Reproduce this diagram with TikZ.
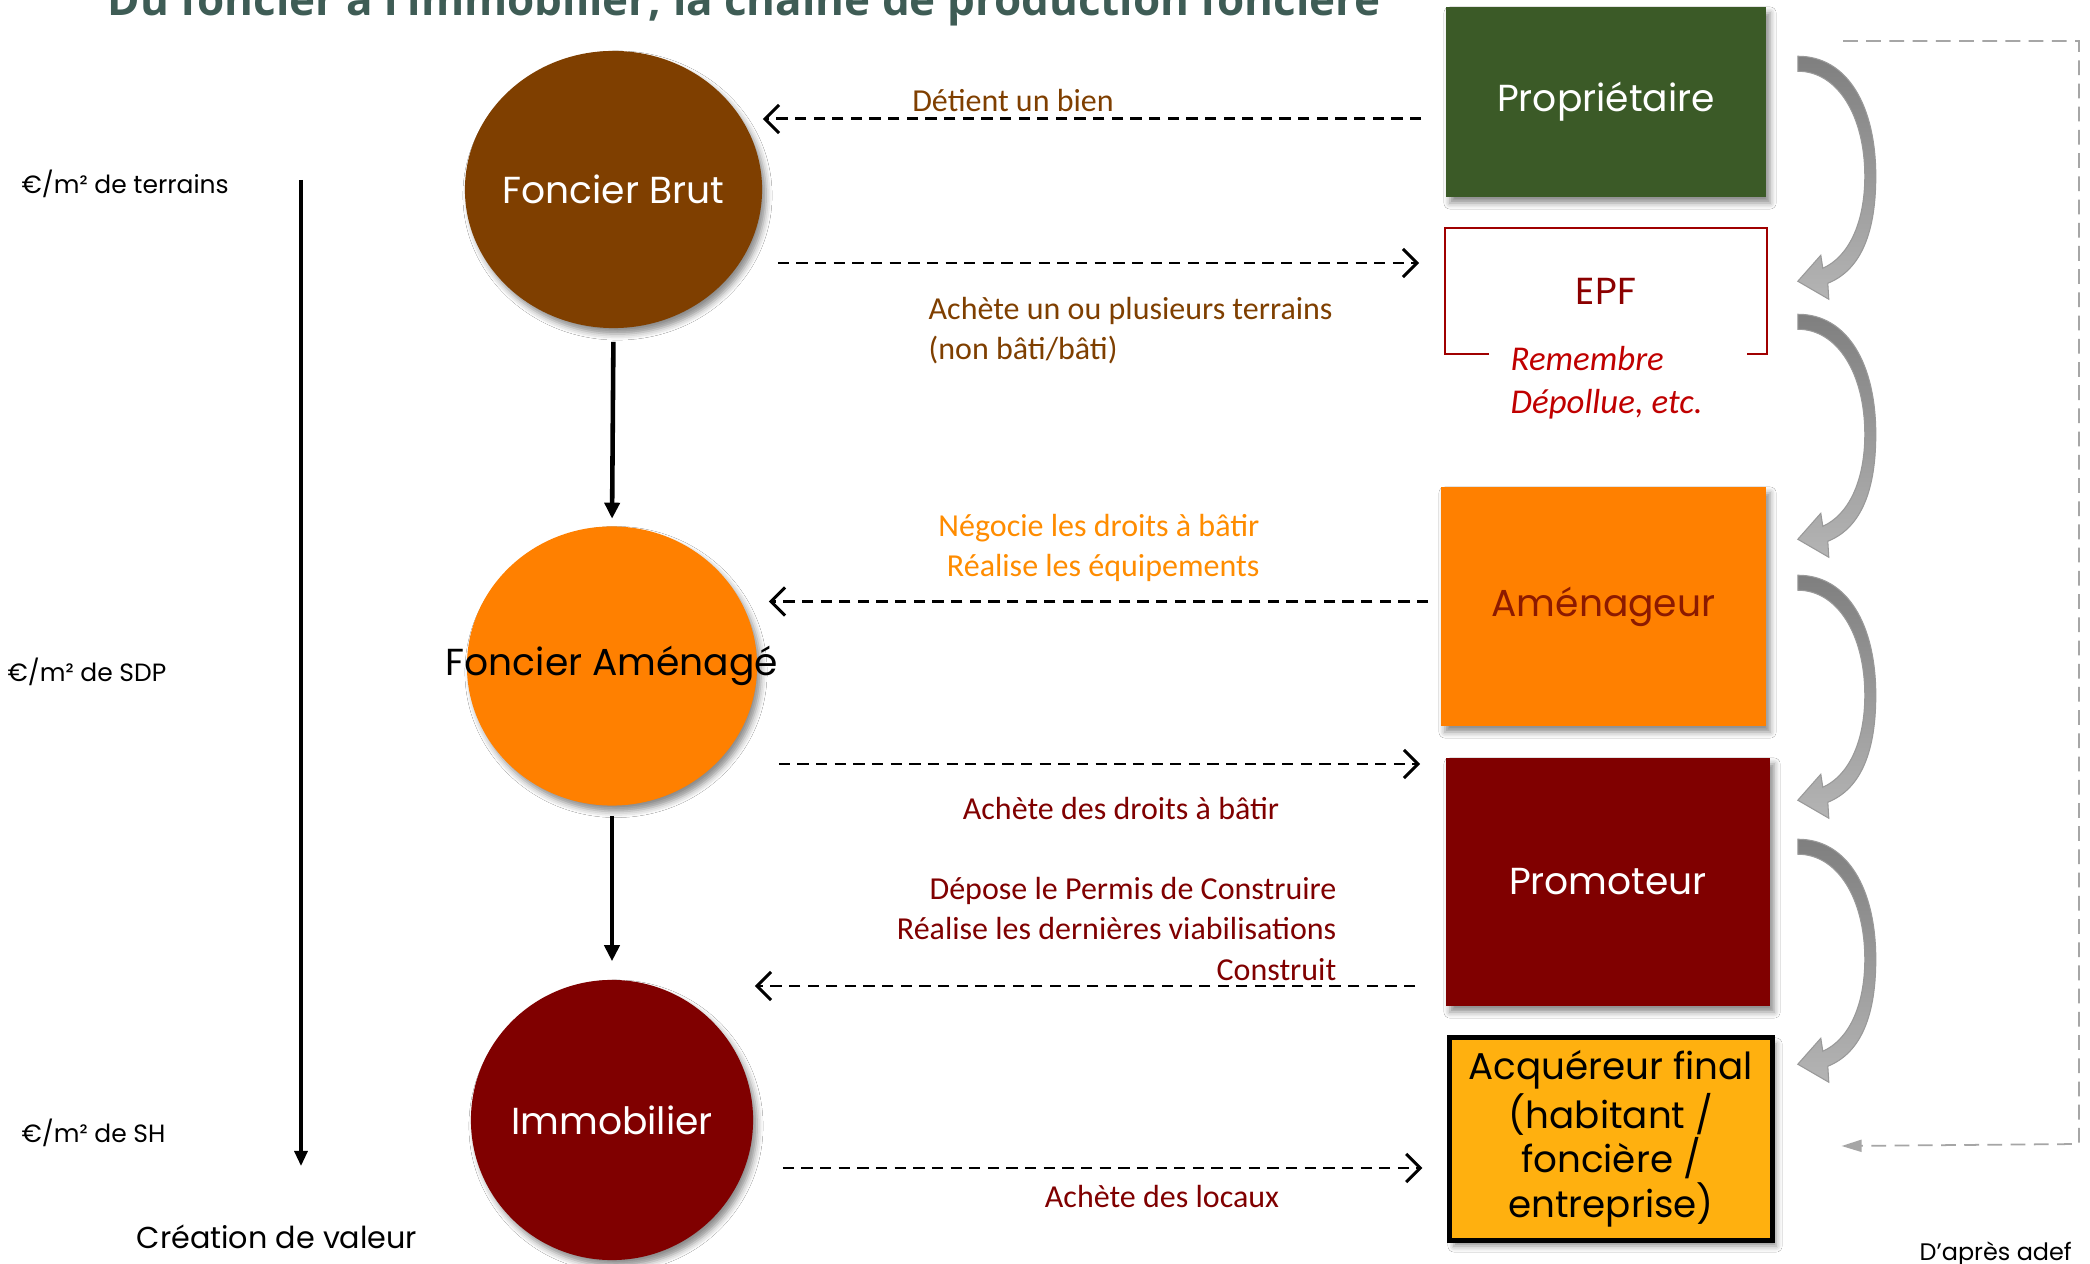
\documentclass[tikz,border=0pt]{standalone}
\usepackage{fontspec}
\setmainfont{Poppins}
\newfontfamily\calib{Carlito}
\newfontfamily\headfont{Open Sans}
\usetikzlibrary{shapes.geometric,arrows.meta,calc,shadows.blur}

\definecolor{brownfb}{HTML}{7F3F00}
\definecolor{orangefa}{HTML}{FF8000}
\definecolor{darkmaroon}{HTML}{800000}
\definecolor{propgreen}{HTML}{3B5A27}
\definecolor{acqamber}{HTML}{FFB00F}
\definecolor{epfred}{HTML}{A00000}
\definecolor{epftext}{HTML}{8B0000}
\definecolor{remred}{HTML}{C00000}
\definecolor{amentext}{HTML}{8C1A00}
\definecolor{negorange}{HTML}{FF8C00}
\definecolor{titlecol}{HTML}{3E5C55}
\definecolor{framegray}{HTML}{A6A6A6}
\definecolor{arrowdark}{HTML}{7F7F7F}
\definecolor{arrowlight}{HTML}{B4B4B4}

\tikzset{
  softshadow/.style={blur shadow={shadow xshift=0.04cm,shadow yshift=-0.06cm,
      shadow blur radius=0.06cm,shadow opacity=45}},
  stage/.style={ellipse, inner sep=0pt, softshadow, font=\fontsize{10.7}{13}\selectfont},
  actor/.style={rectangle, inner sep=0pt, minimum width=3.2cm, font=\fontsize{10.7}{13}\selectfont},
  flow/.style={draw=black, line width=0.85pt, dash pattern=on 3.2pt off 2.1pt,
      -{Straight Barb[length=4pt,width=8pt]}},
  act/.style={font=\calib\fontsize{9.1}{11.4}\selectfont, inner sep=0pt},
  down/.style={line width=1.3pt, -{Triangle[length=0.16cm,width=0.15cm]}},
  unitlbl/.style={anchor=west, inner sep=0pt, font=\fontsize{7.1}{9}\selectfont},
  pics/bendarrow/.style={code={
    \path[top color=arrowdark, bottom color=arrowlight, draw=gray!80, line width=0.3pt]
      (0,0) .. controls (50,0) and (78,-50) .. (78,-120)
      .. controls (78,-182) and (60,-215) .. (30,-227)
      -- (31,-243) -- (0,-225) -- (23,-199) -- (25,-212)
      .. controls (50,-201) and (67,-168) .. (67,-120)
      .. controls (67,-60) and (40,-15) .. (0,-15) -- cycle;
  }}
}

\begin{document}
\begin{tikzpicture}[x=0.01cm,y=0.01cm]
\useasboundingbox (0,0) rectangle (2090,-1264);
\clip (0,0) rectangle (2090,-1264);
\fill[white] (0,0) rectangle (2090,-1264);

% title
\node[anchor=base west, inner sep=0pt, text=titlecol,
      font=\headfont\bfseries\fontsize{12.5}{14}\selectfont] (title) at (107,-16)
  {Du foncier à l’immobilier, la chaîne de production foncière};

% the three stages of land
\node[stage, fill=brownfb, minimum width=2.97cm, minimum height=2.77cm, text=white]
  (fb) at (613.5,-189.5) {\makebox[0pt]{Foncier Brut}};
\node[stage, fill=orangefa, minimum width=2.9cm, minimum height=2.79cm]
  (fa) at (612,-666) {\makebox[0pt]{Foncier Aménagé}};
\node[stage, fill=darkmaroon, minimum width=2.82cm, minimum height=2.8cm, text=white]
  (im) at (612,-1120) {\makebox[0pt]{Immobilier}};

\draw[down, shorten <=0.13cm, shorten >=0.07cm] (fb.south) -- (fa.north);
\draw[down, shorten <=0.1cm, shorten >=0.18cm] (fa.south) -- (im.north);

% actors
\node[actor, softshadow, fill=propgreen, minimum height=1.9cm, text=white]
  (prop) at (1606,-102) {\raisebox{-0.12cm}{Propriétaire}};
\node[actor, minimum height=1.24cm, text=epftext] (epf) at (1606,-291) {EPF};
\draw[epfred, line width=0.65pt] ($(epf.south west)+(44,0)$) -- (epf.south west)
  -- (epf.north west) -- (epf.north east) -- (epf.south east) -- ++(-20,0);
\node[anchor=west, align=left, inner sep=0pt, text=remred,
      font=\calib\itshape\fontsize{9.9}{12.2}\selectfont] (epfnote) at (1510,-383)
  {Remembre\\Dépollue, etc.};
\node[actor, softshadow, fill=orangefa, minimum width=3.25cm, minimum height=2.39cm, text=amentext]
  (amen) at (1603.5,-606.5) {Aménageur};
\node[actor, softshadow, fill=darkmaroon, minimum width=3.24cm, minimum height=2.48cm, text=white]
  (prom) at (1608,-882) {Promoteur};
\node[actor, softshadow, fill=acqamber, draw=black, line width=1.4pt, minimum width=3.22cm,
      minimum height=2.02cm, align=center, font=\fontsize{10.6}{12.7}\selectfont]
  (acq) at (1611,-1139) {Acquéreur final\\(habitant /\\foncière /\\entreprise)};

% hand-over arrows between actors
\pic at ($(prop.north east)+(31,-50)$) {bendarrow};
\pic at ($(epf.north east)+(31,-86)$) {bendarrow};
\pic at ($(amen.north east)+(31,-89)$) {bendarrow};
\pic at ($(prom.north east)+(27,-82)$) {bendarrow};

% return loop to the final buyer
\coordinate (fr1) at (1843,-41);
\coordinate (fr2) at (2079,-41);
\coordinate (fr3) at (2079,-1144);
\draw[framegray, line width=0.5pt, dash pattern=on 4.2pt off 2.4pt,
      -{Triangle[length=0.2cm,width=0.12cm]}]
  (fr1) -- (fr2) -- (fr3) -- ($(acq.east)+(67,-7)$);

% exchanges between actors and land
\coordinate (d1) at ($(prop.west)+(-24,-17)$);
\draw[flow] (d1) -- (fb.east |- d1);
\node[act, text=brownfb] (t1) at (1013,-101) {Détient un bien};

\coordinate (d2) at ($(epf.west)+(-26,28)$);
\draw[flow] ($(fb.east |- d2)+(15,0)$) -- (d2);
\node[act, text=brownfb, anchor=west, align=left] (t2) at (928,-331)
  {Achète un ou plusieurs terrains\\(non bâti/bâti)};

\coordinate (d3) at ($(amen.west)+(-12,5)$);
\draw[flow] (d3) -- ($(fa.east |- d3)+(11,0)$);
\node[act, text=negorange, anchor=east, align=right] (t3) at (1260,-548)
  {Négocie les droits à bâtir\\Réalise les équipements};

\coordinate (d4) at ($(prom.west)+(-25,118)$);
\draw[flow] ($(fa.east |- d4)+(21,0)$) -- (d4);
\node[act, text=darkmaroon] (t4) at (1121,-809) {Achète des droits à bâtir};

\coordinate (d5) at ($(prom.west)+(-30,-104)$);
\draw[flow] (d5) -- ($(im.east |- d5)+(1,0)$);
\node[act, text=darkmaroon, anchor=east, align=right] (t5) at (1337,-929)
  {Dépose le Permis de Construire\\Réalise les dernières viabilisations\\Construit};

\coordinate (d6) at ($(acq.west)+(-25,-29)$);
\draw[flow] ($(im.east |- d6)+(29,0)$) -- (d6);
\node[act, text=darkmaroon] (t6) at (1162,-1197) {Achète des locaux};

% value scale
\coordinate (vtop) at (301,-180);
\coordinate (vbot) at (301,-1166);
\draw[line width=0.9pt, -{Triangle[length=0.15cm,width=0.13cm]}] (vtop) -- (vbot);
\node[unitlbl] (u1) at (21,-184) {€/m² de terrains};
\node[unitlbl] (u2) at (7,-672) {€/m² de SDP};
\node[unitlbl] (u3) at (21,-1133) {€/m² de SH};
\node[anchor=west, inner sep=0pt, font=\fontsize{8.6}{10}\selectfont] (valeur) at (136,-1237)
  {Création de valeur};
\node[anchor=west, inner sep=0pt, font=\fontsize{6.8}{8}\selectfont] (src) at (1919,-1254)
  {D’après adef};
\end{tikzpicture}
\end{document}
